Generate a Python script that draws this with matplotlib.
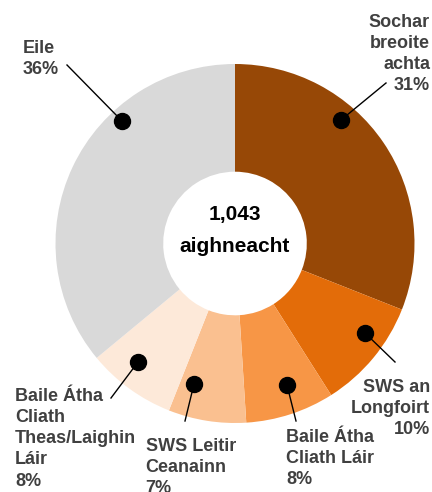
import matplotlib
matplotlib.use("Agg")
import matplotlib.pyplot as plt

categories = ["Sochar\nbreoite\nachta", "SWS an\nLongfoirt", "Baile Átha\nCliath Láir",
              "SWS Leitir\nCeanainn", "Baile Átha\nCliath\nTheas/Laighin\nLáir", "Eile"]
values = [31, 10, 8, 7, 8, 36]
total_label = "1,043"
total_word = "aighneacht"
colors = ["#974806", "#E36C09", "#F79646", "#FAC090", "#FDE9D9", "#D9D9D9"]

W, H = 432, 492
CX, CY, R = 235, 243.5, 179.5
PITCH = 21.2

def px(x, y):
    return ((x - CX) / R, (CY - y) / R)

# layout (pixels): dot, line end, first-line baseline anchor, alignment
dots = [(341, 120), (365, 333), (287, 385), (194, 384), (138, 362), (122, 121)]
ends = [(386, 83), (395, 362), (296, 421), (185, 421), (111, 398), (67, 65)]
text_pos = [(430, 26.7), (430, 391.7), (286.5, 441.7), (145.5, 450.7), (15, 400.7), (22.5, 52.7)]
text_ha = ["right", "right", "left", "left", "left", "left"]

plt.rcParams['font.family'] = ['Liberation Sans', 'DejaVu Sans']
fig = plt.figure(figsize=(W / 100, H / 100), dpi=100)
ax = fig.add_axes([0, 0, 1, 1])

ax.pie(values, colors=colors, startangle=90, counterclock=False, radius=1,
       wedgeprops=dict(width=0.6, edgecolor='none'))
ax.set_xlim(-CX / R, (W - CX) / R)
ax.set_ylim(-(H - CY) / R, CY / R)
ax.set_aspect('equal')
ax.axis('off')

for i, (cat, v) in enumerate(zip(categories, values)):
    dx, dy = px(*dots[i])
    ex, ey = px(*ends[i])
    ax.plot([dx, ex], [dy, ey], color='black', lw=1.0, zorder=3)
    ax.plot([dx], [dy], 'o', color='black', ms=11.5, zorder=4)
    lines = f"{cat}\n{v}%".split("\n")
    for j, line in enumerate(lines):
        tx, ty = px(text_pos[i][0], text_pos[i][1] + j * PITCH)
        ax.text(tx, ty, line, ha=text_ha[i], va='baseline', fontsize=13,
                fontweight='bold', color='#404040')

x0, y0 = px(CX, 220)
ax.text(x0, y0, total_label, ha='center', va='baseline', fontsize=15, fontweight='bold', color='black')
x1, y1 = px(CX, 251.7)
ax.text(x1, y1, total_word, ha='center', va='baseline', fontsize=15, fontweight='bold', color='black')

fig.savefig("out.png", dpi=100)
